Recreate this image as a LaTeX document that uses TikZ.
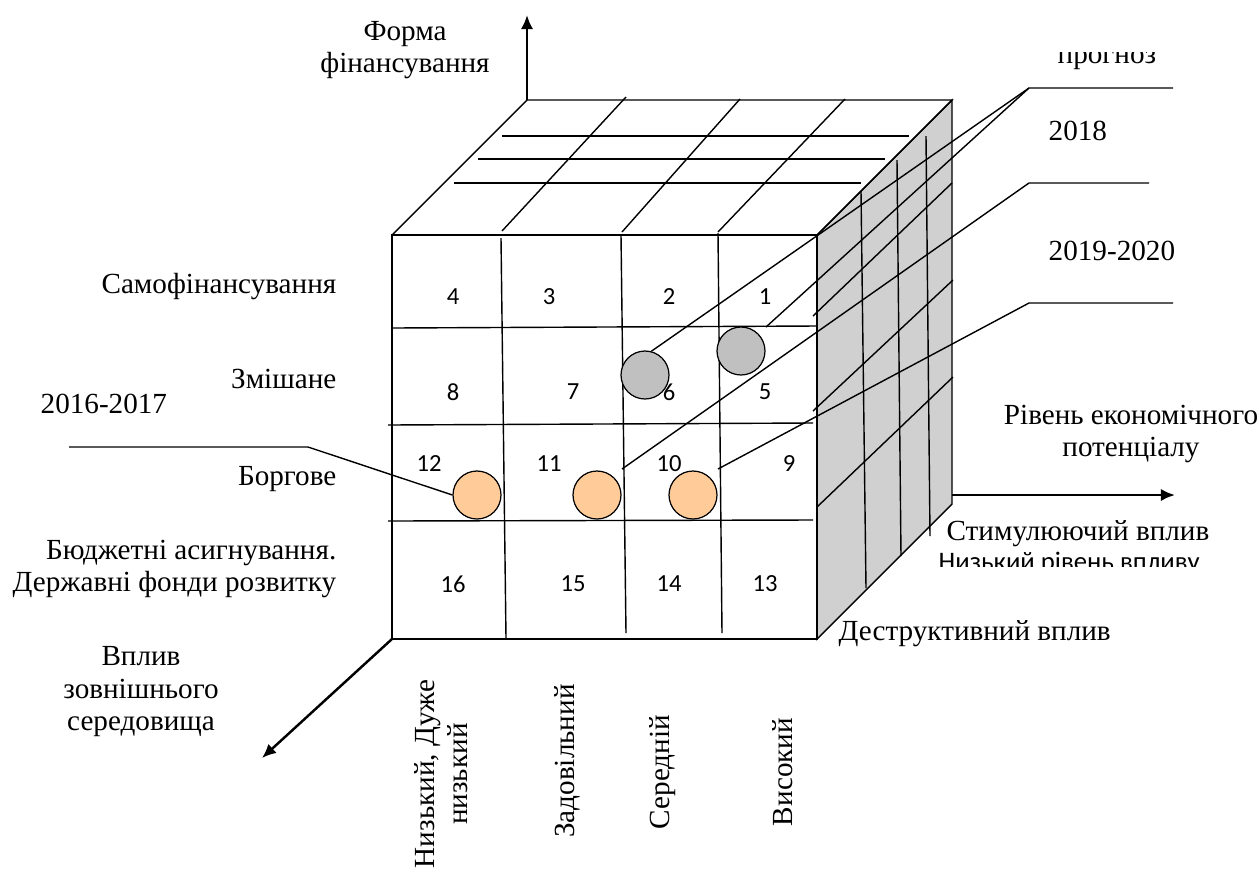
\documentclass[tikz,border=0pt]{standalone}
\usepackage{fontspec}
\newfontfamily\labelfont{Liberation Serif}
\newfontfamily\cellfont{Carlito}
\usetikzlibrary{arrows.meta}
\definecolor{facegray}{RGB}{208,208,208}
\definecolor{dotgray}{RGB}{192,192,192}
\definecolor{dotorange}{RGB}{255,204,153}

\begin{document}
\begin{tikzpicture}[x=0.02cm,y=-0.02cm,line width=0.8pt,
  >={Latex[length=8pt,width=7pt]},
  axis/.style={->,line width=1.4pt},
  lbl/.style={font=\labelfont\fontsize{16.6}{18.5}\selectfont,inner sep=0pt},
  num/.style={font=\cellfont\fontsize{14}{16}\selectfont,inner sep=0pt},
  dot/.style={circle,draw,line width=0.7pt,minimum size=0.96cm,inner sep=0pt}]
\useasboundingbox (0,0) rectangle (1258,870);

% corners of the cube
\coordinate (fa) at (392,235);
\coordinate (fb) at (817,235);
\coordinate (fc) at (817,639);
\coordinate (fd) at (392,639);
\coordinate (ba) at (527,100);
\coordinate (bb) at (952,100);
\coordinate (bc) at (952,504);

% side face
\filldraw[fill=facegray] (fb) -- (bb) -- (bc) -- (fc) -- cycle;
% top face
\draw (fa) -- (ba) -- (bb) -- (fb);
% front face
\draw (fa) rectangle (fc);

% axes
\coordinate (up) at (527,15);
\coordinate (rs) at (952,495);
\coordinate (re) at (1175,495);
\coordinate (dn) at (262,758);
\draw[axis] (ba) -- (up);
\draw[axis] (rs) -- (re);
\draw[axis] (fd) -- (dn);

% front grid
\draw (392,328) -- (817,326);
\draw (388,425) -- (813,423);
\draw (388,521) -- (813,520);
\draw (501,238) -- (506,638);
\draw (621,235) -- (626,633);
\draw (718,233) -- (722,633);

% top grid
\draw (626,97) -- (502,231);
\draw (740,99) -- (622,232);
\draw (845,99) -- (718,232);
\draw (502,136) -- (909,136);
\draw (478,159) -- (885,159);
\draw (454,183) -- (861,183);

% side grid
\draw (861,191) -- (866,588);
\draw (897,160) -- (901,556);
\draw (926,136) -- (930,536);
\draw (813,316) -- (952,183);
\draw (813,411) -- (953,280);
\draw (817,507) -- (953,377);

% cell numbers
\node[num] (n4) at (453,297) {4};
\node[num] (n3) at (549,297) {3};
\node[num] (n2) at (669,297) {2};
\node[num] (n1) at (765,297) {1};
\node[num] (n8) at (453,392) {8};
\node[num] (n7) at (573,392) {7};
\node[num] (n6) at (669,392) {6};
\node[num] (n5) at (765,392) {5};
\node[num] (n12) at (429,464) {12};
\node[num] (n11) at (549,464) {11};
\node[num] (n10) at (669,464) {10};
\node[num] (n9) at (789,464) {9};
\node[num] (n16) at (453,584) {16};
\node[num] (n15) at (573,584) {15};
\node[num] (n14) at (669,584) {14};
\node[num] (n13) at (765,584) {13};

% points
\node[dot,fill=dotgray] (g6) at (645,375) {};
\node[dot,fill=dotgray] (g1) at (741,351) {};
\node[dot,fill=dotorange] (o12) at (477,495) {};
\node[dot,fill=dotorange] (o11) at (597,495) {};
\node[dot,fill=dotorange] (o10) at (693,495) {};

% leaders
\coordinate (g1t) at (766,327);
\coordinate (o11t) at (622,469);
\coordinate (o10t) at (718,469);
\coordinate (k1) at (1029,88);
\coordinate (k1e) at (1173,88);
\coordinate (k2) at (1029,183);
\coordinate (k2e) at (1149,183);
\coordinate (k3) at (1029,303);
\coordinate (k3e) at (1173,303);
\coordinate (k4) at (308,447);
\coordinate (k4e) at (69,447);
\draw (g6.75) -- (k1) -- (k1e);
\draw (g1t) -- (k1);
\draw (o11t) -- (k2) -- (k2e);
\draw (o10t) -- (k3) -- (k3e);
\draw (o12.west) -- (k4) -- (k4e);

% labels
\node[lbl,align=center] (form) at (405,50) {Форма\\фінансування};
\node[lbl,anchor=base east] (self) at (337,293) {Самофінансування};
\node[lbl,anchor=base east] (mixed) at (337,388) {Змішане};
\node[lbl,anchor=base east] (debt) at (337,485) {Боргове};
\node[lbl,anchor=east,align=right] (budget) at (337,569) {Бюджетні асигнування.\\Державні фонди розвитку};
\node[lbl,anchor=base west] (y1617) at (40,413) {2016-2017};
\node[lbl,align=center] (env) at (141,692) {Вплив\\зовнішнього\\середовища};
\node[lbl,align=center] (potential) at (1131,434) {Рівень економічного\\потенціалу};
\node[lbl,anchor=base] (stim) at (1078,540) {Стимулюючий вплив};
\node[lbl,anchor=base west,fill=white] (destr) at (838,640) {Деструктивний вплив};
\node[lbl,anchor=base west] (y18) at (1048,140) {2018};
\node[lbl,anchor=base west] (y1920) at (1048,260) {2019-2020};
\begin{scope}
\clip (1000,52) rectangle (1258,80);
\node[lbl,anchor=base west] (forecast) at (1057,63) {прогноз};
\end{scope}
\begin{scope}
\clip (930,545) rectangle (1258,566);
\node[anchor=base west,inner sep=0pt,font=\cellfont\fontsize{15.2}{17}\selectfont] (lowimp) at (938,570) {Низький рівень впливу};
\end{scope}

% levels
\node[lbl,rotate=90,align=center] (low) at (441,774) {Низький, Дуже\\низький};
\node[lbl,rotate=90] (fair) at (567,761) {Задовільний};
\node[lbl,rotate=90] (mid) at (663,772) {Середній};
\node[lbl,rotate=90] (high) at (783,772) {Високий};
\end{tikzpicture}
\end{document}
